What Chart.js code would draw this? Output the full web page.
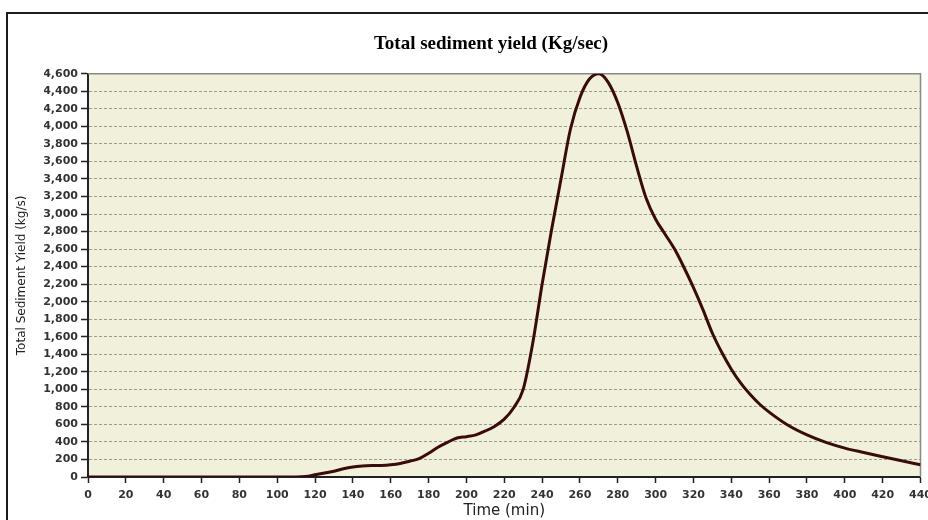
<!DOCTYPE html>
<html>
<head>
<meta charset="utf-8">
<title>Total sediment yield</title>
<script src="https://cdn.jsdelivr.net/npm/chart.js@4.4.0/dist/chart.umd.min.js"></script>
<style>
    html, body { margin: 0; padding: 0; background: #fff; overflow: hidden; }
    #frame {
        position: absolute; left: 6px; top: 12px;
        width: 960px; height: 540px;
        border: 2px solid #1c1c1c; box-sizing: border-box;
    }
    #wrap { position: absolute; left: 0; top: 0; width: 938px; height: 520px; }
</style>
</head>
<body>
<div id="frame"></div>
<div id="wrap"><canvas id="sedChart"></canvas></div>

<script>
const timeMin = [0, 10, 20, 30, 40, 50, 60, 70, 80, 90, 100, 110,
    115, 120, 125, 130, 135, 140, 145, 150, 155, 160, 165, 170, 175,
    180, 185, 190, 195, 200, 205, 210, 215, 220, 225, 230, 235, 240,
    245, 250, 255, 260, 265, 270, 275, 280, 285, 290, 295, 300, 305,
    310, 315, 320, 325, 330, 335, 340, 345, 350, 355, 360, 370, 380,
    390, 400, 410, 420, 430, 440];
const sedimentYield = [0, 0, 0, 0, 0, 0, 0, 0, 0, 0, 0, 0,
    5, 25, 45, 65, 95, 115, 125, 130, 132, 140, 155, 180, 210,
    270, 340, 395, 445, 460, 480, 525, 580, 660, 790, 1000, 1520, 2200,
    2820, 3400, 3970, 4330, 4540, 4600, 4500, 4270, 3940, 3540, 3180, 2940, 2770,
    2600, 2390, 2160, 1910, 1640, 1420, 1230, 1070, 940, 830, 740, 590, 480,
    395, 330, 280, 232, 185, 140];

const xTicks = [0, 20, 40, 60, 80, 100, 120, 140, 160, 180, 200, 220,
    240, 260, 280, 300, 320, 340, 360, 380, 400, 420, 440];
const yTicks = [0, 200, 400, 600, 800, 1000, 1200, 1400, 1600, 1800, 2000, 2200,
    2400, 2600, 2800, 3000, 3200, 3400, 3600, 3800, 4000, 4200, 4400, 4600];

const points = timeMin.map((t, i) => ({ x: t, y: sedimentYield[i] }));

// plot area background + grey frame
const plotArea = {
    id: 'plotArea',
    beforeDraw(chart) {
        const { ctx, chartArea: a } = chart;
        ctx.save();
        ctx.fillStyle = '#f1f0da';
        ctx.fillRect(a.left, a.top, a.right - a.left, a.bottom - a.top);
        ctx.restore();
    },
    beforeDatasetsDraw(chart) {
        const { ctx, chartArea: a } = chart;
        ctx.save();
        ctx.strokeStyle = '#8a8a84';
        ctx.lineWidth = 1.5;
        ctx.beginPath();
        ctx.moveTo(a.left, a.top);
        ctx.lineTo(a.right, a.top);
        ctx.lineTo(a.right, a.bottom);
        ctx.stroke();
        ctx.restore();
    }
};

const tickFont = { family: 'DejaVu Sans', size: 11, weight: 'bold' };

new Chart(document.getElementById('sedChart'), {
    type: 'line',
    data: {
        datasets: [{
            label: 'Total Sediment Yield',
            data: points,
            borderColor: '#3a0b0b',
            borderWidth: 3,
            pointRadius: 0,
            cubicInterpolationMode: 'monotone',
            fill: false
        }]
    },
    options: {
        responsive: true,
        maintainAspectRatio: false,
        animation: false,
        // left padding pushes the full-width title towards the plot centre
        layout: { padding: { left: 44, right: 0, top: 0, bottom: 0 } },
        plugins: {
            legend: { display: false },
            tooltip: { enabled: false },
            title: {
                display: true,
                text: 'Total sediment yield (Kg/sec)',
                color: '#000',
                font: { family: 'Liberation Serif', size: 19, weight: 'bold' },
                padding: { top: 33, bottom: 18 }
            }
        },
        scales: {
            x: {
                type: 'linear',
                min: 0,
                max: 440,
                afterBuildTicks: s => { s.ticks = xTicks.map(v => ({ value: v })); },
                afterFit: s => { s.height = 43; },
                ticks: {
                    autoSkip: false,
                    maxRotation: 0,
                    padding: 6,
                    color: '#333',
                    font: tickFont
                },
                grid: {
                    drawOnChartArea: false,
                    drawTicks: true,
                    tickLength: 6,
                    tickColor: '#222',
                    tickWidth: 1.5
                },
                border: { color: '#222', width: 2 },
                title: {
                    display: true,
                    text: 'Time (min)',
                    color: '#222',
                    font: { family: 'DejaVu Sans', size: 15 },
                    padding: { top: 0, bottom: 0 }
                }
            },
            y: {
                min: 0,
                max: 4600,
                afterBuildTicks: s => { s.ticks = yTicks.map(v => ({ value: v })); },
                afterFit: s => { s.width = 44; },
                ticks: {
                    autoSkip: false,
                    padding: 3,
                    color: '#333',
                    font: tickFont,
                    callback: v => v.toLocaleString('en-US')
                },
                grid: {
                    color: '#9a9a90',
                    lineWidth: 1,
                    tickLength: 7,
                    tickColor: '#222',
                    tickWidth: 1.5
                },
                border: { color: '#222', width: 2, dash: [3, 2] },
                title: {
                    display: true,
                    text: 'Total Sediment Yield (kg/s)',
                    color: '#222',
                    font: { family: 'DejaVu Sans', size: 12 },
                    padding: { top: -29, bottom: 0 }
                }
            }
        }
    },
    plugins: [plotArea]
});
</script>
</body>
</html>
